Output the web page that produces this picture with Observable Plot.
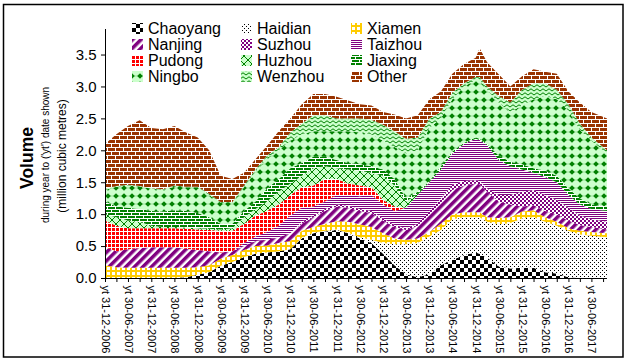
<!DOCTYPE html>
<html><head><meta charset="utf-8">
<script src="https://cdn.jsdelivr.net/npm/d3@7"></script>
<script src="https://cdn.jsdelivr.net/npm/@observablehq/plot@0.6"></script>
<style>
html,body{margin:0;padding:0;background:#fff;}
#chart{width:628px;height:362px;}
</style></head><body><div id="chart"></div>
<script>
const dates = ["2006-12-31","2007-03-31","2007-06-30","2007-09-30","2007-12-31","2008-03-31","2008-06-30","2008-09-30","2008-12-31","2009-03-31","2009-06-30","2009-09-30","2009-12-31","2010-03-31","2010-06-30","2010-09-30","2010-12-31","2011-03-31","2011-06-30","2011-09-30","2011-12-31","2012-03-31","2012-06-30","2012-09-30","2012-12-31","2013-03-31","2013-06-30","2013-09-30","2013-12-31","2014-03-31","2014-06-30","2014-09-30","2014-12-31","2015-01-31","2015-03-31","2015-06-30","2015-09-30","2015-12-31","2016-03-31","2016-06-30","2016-09-30","2016-12-31","2017-03-31","2017-06-30","2017-10-31"];

const seriesNames = ["Chaoyang","Haidian","Xiamen","Nanjing","Suzhou","Taizhou","Pudong","Huzhou","Jiaxing","Ningbo","Wenzhou","Other"];

const chaoyang = [0,0,0,0,0,0,0,0.01,0.05,0.09,0.19,0.25,0.33,0.38,0.40,0.42,0.45,0.62,0.70,0.73,0.75,0.70,0.62,0.55,0.38,0.20,0.06,0.01,0.06,0.20,0.28,0.36,0.40,0.38,0.32,0.18,0.15,0.16,0.16,0.09,0.07,0.01,0,0,0];
const haidian = [0,0,0,0,0,0,0,0,0,0,0,0,0,0,0,0,0,0.01,0.01,0.01,0.01,0.01,0.02,0.05,0.17,0.33,0.47,0.54,0.59,0.55,0.64,0.59,0.55,0.57,0.56,0.66,0.71,0.77,0.79,0.79,0.75,0.73,0.68,0.66,0.64];
const xiamen = [0.20,0.17,0.16,0.16,0.16,0.16,0.16,0.15,0.12,0.11,0.11,0.11,0.11,0.12,0.11,0.13,0.13,0.11,0.09,0.11,0.13,0.17,0.20,0.20,0.15,0.09,0.07,0.07,0.07,0.10,0.08,0.08,0.08,0.08,0.07,0.10,0.09,0.11,0.11,0.07,0.06,0.04,0.06,0.06,0.06];
const nanjing = [0.28,0.25,0.29,0.31,0.32,0.32,0.32,0.30,0.27,0.22,0.10,0.06,0.06,0.08,0.09,0.09,0.12,0.11,0.15,0.20,0.23,0.22,0.21,0.22,0.20,0.18,0.15,0.20,0.28,0.33,0.38,0.42,0.45,0.44,0.40,0.26,0.20,0.08,0.08,0.10,0.12,0.12,0.09,0.08,0.06];
const suzhou = [0,0,0,0,0,0,0,0,0,0,0,0,0,0,0,0,0,0.03,0.03,0.03,0.03,0.03,0.03,0.03,0.03,0.03,0.03,0.03,0.05,0.06,0.08,0.07,0.05,0.05,0.05,0.10,0.15,0.23,0.24,0.25,0.22,0.20,0.15,0.12,0.12];
const taizhou = [0,0,0,0,0,0,0,0,0,0,0,0,0.05,0.07,0.12,0.18,0.28,0.22,0.14,0.12,0.15,0.17,0.20,0.25,0.22,0.22,0.32,0.45,0.45,0.46,0.49,0.58,0.65,0.64,0.68,0.55,0.45,0.35,0.27,0.28,0.28,0.20,0.17,0.16,0.17];
const pudong = [0.42,0.40,0.33,0.31,0.30,0.30,0.30,0.31,0.32,0.33,0.34,0.32,0.30,0.33,0.33,0.33,0.32,0.32,0.33,0.35,0.25,0.18,0.17,0.12,0.07,0.07,0,0,0,0,0,0,0,0,0,0,0,0,0,0,0,0,0,0,0];
const huzhou = [0.10,0.13,0.12,0.10,0.04,0.02,0.02,0.02,0.02,0.02,0.02,0.04,0.10,0.10,0.15,0.20,0.18,0.18,0.27,0.20,0.17,0.22,0.23,0.23,0.38,0.33,0.10,0.02,0,0,0,0,0,0,0,0,0,0,0,0,0,0,0,0,0];
const jiaxing = [0.20,0.17,0.20,0.20,0.23,0.24,0.26,0.26,0.24,0.18,0.09,0.07,0.10,0.12,0.20,0.20,0.24,0.20,0.18,0.15,0.13,0.10,0.10,0.10,0.10,0.10,0.05,0.03,0.02,0.05,0.03,0.02,0.02,0.02,0.02,0.07,0.07,0.08,0.07,0.10,0.10,0.10,0.10,0.07,0.07];
const ningbo = [0.18,0.31,0.35,0.35,0.35,0.34,0.37,0.37,0.40,0.35,0.33,0.33,0.37,0.46,0.48,0.45,0.43,0.45,0.40,0.40,0.45,0.50,0.50,0.50,0.45,0.50,0.70,0.65,0.83,0.75,0.82,0.88,0.90,0.92,0.85,0.83,0.78,0.92,1.08,1.17,1.20,1.22,1.07,1.00,0.83];
const wenzhou = [0.02,0.01,0.01,0.01,0.01,0.01,0.02,0.01,0.01,0.02,0.01,0.01,0.03,0.04,0.04,0.05,0.13,0.17,0.25,0.25,0.20,0.20,0.22,0.23,0.25,0.25,0.23,0.20,0.15,0.10,0.10,0.05,0.05,0.05,0.05,0.10,0.15,0.25,0.25,0.20,0.15,0.10,0.10,0.05,0.05];
const other = [0.70,0.81,0.92,1.03,0.94,0.94,0.93,0.85,0.77,0.68,0.41,0.36,0.20,0.16,0.15,0.25,0.22,0.30,0.33,0.33,0.34,0.28,0.22,0.22,0.20,0.26,0.32,0.35,0.30,0.32,0.30,0.30,0.30,0.45,0.38,0.34,0.25,0.21,0.22,0.18,0.25,0.20,0.33,0.40,0.50];

const tickLabels = ["yt 31-12-2006","yt 30-06-2007","yt 31-12-2007","yt 30-06-2008","yt 31-12-2008","yt 30-06-2009","yt 31-12-2009","yt 30-06-2010","yt 31-12-2010","yt 30-06-2011","yt 31-12-2011","yt 30-06-2012","yt 31-12-2012","yt 30-06-2013","yt 31-12-2013","yt 30-06-2014","yt 31-12-2014","yt 30-06-2015","yt 31-12-2015","yt 30-06-2016","yt 31-12-2016","yt 30-06-2017"];
const yTicks = [0,0.5,1.0,1.5,2.0,2.5,3.0,3.5];

const seriesValues = [chaoyang,haidian,xiamen,nanjing,suzhou,taizhou,pudong,huzhou,jiaxing,ningbo,wenzhou,other];
const parseDate = d3.utcParse("%Y-%m-%d");
const parseLabel = d3.utcParse("%d-%m-%Y");
const data = seriesNames.flatMap((name, i) => dates.map((d, j) => ({date: parseDate(d), series: name, value: seriesValues[i][j]})));
const labelMap = new Map(tickLabels.map(s => [+parseLabel(s.slice(3)), s]));
const startDate = parseDate(dates[0]);
const endDate = parseDate(dates[dates.length - 1]);
const quarterTicks = d3.utcMonth.range(d3.utcDay.offset(startDate, 1), endDate, 3).map(d => d3.utcDay.offset(d, -1));

const patId = n => "pat-" + n;
const FONT = "'Liberation Sans', Arial, sans-serif";

const chart = Plot.plot({
  width: 628, height: 362,
  marginLeft: 105, marginRight: 21, marginTop: 29, marginBottom: 84,
  style: {fontFamily: FONT, background: "white", color: "black"},
  x: {type: "utc", domain: [startDate, endDate]},
  y: {domain: [0, 3.9]},
  color: {type: "ordinal", domain: seriesNames, range: seriesNames.map(n => `url(#${patId(n)})`)},
  marks: [
    Plot.areaY(data, {x: "date", y: "value", z: "series", fill: "series", order: seriesNames}),
    Plot.ruleY([0], {stroke: "black"}),
    Plot.ruleX([startDate], {stroke: "black"}),
    Plot.axisY({ticks: yTicks, tickFormat: d => d.toFixed(1), tickSize: 4, tickPadding: 5, fontSize: 15, label: null}),
    Plot.axisX({ticks: quarterTicks, tickFormat: d => labelMap.get(+d) ?? "", tickSize: 4, tickPadding: 3, tickRotate: 90, fontSize: 11, label: null})
  ]
});
document.getElementById("chart").appendChild(chart);

const svg = d3.select(chart);
const defs = svg.insert("defs", ":first-child");
function pattern(name, w, h, build, transform) {
  const p = defs.append("pattern").attr("id", patId(name)).attr("patternUnits", "userSpaceOnUse")
    .attr("width", w).attr("height", h);
  if (transform) p.attr("patternTransform", transform);
  build(p);
}
const rect = (p, x, y, w, h, c) => p.append("rect").attr("x", x).attr("y", y).attr("width", w).attr("height", h).attr("fill", c);
const PURPLE = "#800080", GREEN = "#008000", LIGHT = "#CCFFCC", BROWN = "#993300", RED = "#FF0000", GOLD = "#FFCC00";
pattern("Chaoyang", 8, 8, p => { rect(p,0,0,8,8,"#fff"); rect(p,0,0,4,4,"#000"); rect(p,4,4,4,4,"#000"); });
pattern("Haidian", 4, 4, p => { rect(p,0,0,4,4,"#fff"); rect(p,0,0,1,1,"#000"); rect(p,2,2,1,1,"#000"); });
pattern("Xiamen", 5, 5, p => { rect(p,0,0,5,5,"#fff"); rect(p,0,0,5,2,GOLD); rect(p,0,0,2,5,GOLD); });
pattern("Nanjing", 6, 6, p => { rect(p,0,0,6,6,"#fff"); rect(p,0,0,3.5,6,PURPLE); }, "rotate(45)");
pattern("Suzhou", 4, 4, p => { rect(p,0,0,4,4,"#fff"); rect(p,0,0,2,2,PURPLE); rect(p,2,2,2,2,PURPLE); });
pattern("Taizhou", 4, 2, p => { rect(p,0,0,4,2,"#fff"); rect(p,0,0,4,1,PURPLE); });
pattern("Pudong", 4, 4, p => { rect(p,0,0,4,4,RED); rect(p,0,3,4,1,"#fff"); rect(p,3,0,1,4,"#fff"); });
pattern("Huzhou", 8, 8, p => { rect(p,0,0,8,8,LIGHT); p.append("path").attr("d","M0,4L4,0L8,4L4,8Z").attr("fill","none").attr("stroke",GREEN).attr("stroke-width",1); });
pattern("Jiaxing", 8, 6, p => { rect(p,0,0,8,6,"#fff"); rect(p,0,0,7,2,GREEN); rect(p,4,3,7,2,GREEN); rect(p,-4,3,7,2,GREEN); });
pattern("Ningbo", 8, 8, p => { rect(p,0,0,8,8,LIGHT); p.append("path").attr("d","M4,1.2L6.8,4L4,6.8L1.2,4Z").attr("fill",GREEN); rect(p,0,3.5,8,1,GREEN).attr("opacity",0.25); });
pattern("Wenzhou", 6, 4, p => { rect(p,0,0,6,4,LIGHT); p.append("path").attr("d","M0,3L3,0.8L6,3").attr("fill","none").attr("stroke",GREEN).attr("stroke-width",1); });
pattern("Other", 8, 8, p => { rect(p,0,0,8,8,"#fff"); rect(p,0,0,7,3,BROWN); rect(p,4,4,7,3,BROWN); rect(p,-4,4,7,3,BROWN); });

// Legend (3 columns x 4 rows, inside the plot area)
const legendCols = [132, 241, 351];
const legendRows = [34, 50, 66, 82];
const legend = svg.append("g").attr("font-family", FONT).attr("font-size", 16).attr("text-anchor", "start");
seriesNames.forEach((name, i) => {
  const cx = legendCols[i % 3], by = legendRows[Math.floor(i / 3)];
  legend.append("rect").attr("x", cx).attr("y", by - 11).attr("width", 11).attr("height", 11).attr("fill", `url(#${patId(name)})`);
  legend.append("text").attr("x", cx + 16).attr("y", by).attr("fill", "black").text(name);
});

// Y axis titles
const titles = svg.append("g").attr("font-family", FONT).attr("fill", "black").attr("text-anchor", "middle");
titles.append("text").attr("transform", "translate(33,158) rotate(-90)").attr("font-size", 17.5).attr("font-weight", "bold").text("Volume");
titles.append("text").attr("transform", "translate(49,155) rotate(-90)").attr("font-size", 10).text("during year to ('yt') date shown");
titles.append("text").attr("transform", "translate(65.5,156) rotate(-90)").attr("font-size", 12).text("(million cubic metres)");

// Outer chart border
svg.append("rect").attr("x", 3.5).attr("y", 4.5).attr("width", 619.5).attr("height", 352.5)
  .attr("fill", "none").attr("stroke", "black").attr("stroke-width", 1.5);
</script></body></html>
